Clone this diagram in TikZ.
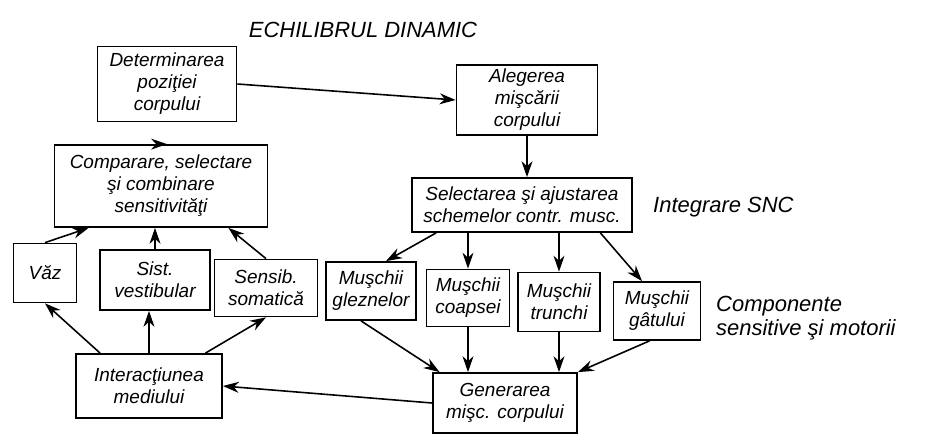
\documentclass[tikz,border=0pt]{standalone}
\usepackage{fontspec}
\setmainfont{Liberation Sans}
\usepackage{tikz}
\usetikzlibrary{arrows.meta,positioning,calc}

\begin{document}
\begin{tikzpicture}[
font=\itshape\fontsize{10.8}{12.5}\selectfont,
>={Stealth[length=3.2mm,width=2.2mm]},
box/.style={draw, line width=1pt, align=center, inner sep=2pt},
arr/.style={->, line width=0.9pt},
lbl/.style={font=\itshape\fontsize{12.5}{14}\selectfont, align=left}]
    \useasboundingbox (0,0) rectangle (18.5,8.82);

    % Title
    \node (title) at (7.26,8.22) [font=\itshape\fontsize{12.5}{14}\selectfont] {ECHILIBRUL DINAMIC};

    % Left branch: sensory side
    \node (det) at (3.34,7.14) [box, minimum width=2.78cm, minimum height=1.5cm] {Determinarea\\poziţiei\\corpului};
    \node (comp) at (3.22,5.10) [box, minimum width=4.26cm, minimum height=1.64cm] {Comparare, selectare\\şi combinare\\sensitivităţi};
    \node (vaz) at (0.90,3.36) [box, minimum width=1.26cm, minimum height=1.18cm] {Văz};
    \node (vest) at (3.10,3.22) [box, minimum width=2.2cm, minimum height=1.2cm] {Sist.\\vestibular};
    \node (som) at (5.32,3.06) [box, minimum width=2.06cm, minimum height=1.14cm] {Sensib.\\somatică};
    \node (inter) at (2.98,1.10) [box, minimum width=2.92cm, minimum height=1.28cm] {Interacţiunea\\mediului};

    % Right branch: motor side
    \node (aleg) at (10.54,6.82) [box, minimum width=2.82cm, minimum height=1.4cm] {Alegerea\\mişcării\\corpului};
    \node (sel) at (10.44,4.72) [box, minimum width=4.4cm, minimum height=1.08cm] {Selectarea şi ajustarea\\schemelor contr. musc.};
    \node (glez) at (7.42,3.00) [box, minimum width=1.8cm, minimum height=1.16cm] {Muşchii\\gleznelor};
    \node (coap) at (9.36,2.86) [box, minimum width=1.66cm, minimum height=1.14cm] {Muşchii\\coapsei};
    \node (trun) at (11.18,2.78) [box, minimum width=1.64cm, minimum height=1.18cm] {Muşchii\\trunchi};
    \node (gat) at (13.14,2.60) [box, minimum width=1.74cm, minimum height=1.16cm] {Muşchii\\gâtului};
    \node (gen) at (10.10,0.76) [box, minimum width=2.88cm, minimum height=1.2cm] {Generarea\\mişc. corpului};

    % Side labels
    \node (snc) at (12.94,4.68) [lbl, anchor=west] {Integrare SNC};
    \node (cmp) at (14.2,2.46) [lbl, anchor=west] {Componente\\sensitive şi motorii};

    % Arrows, left
    \draw[arr] (comp.north) -- (comp.north -| det.south);
    \draw[arr] (vaz.north) -- ([xshift=0.7cm]comp.south west);
    \draw[arr] (vest.north) -- (vest.north |- comp.south);
    \draw[arr] (som.north) -- ([xshift=-0.8cm]comp.south east);
    \draw[arr] ([xshift=0.5cm]inter.north west) -- (vaz.south);
    \draw[arr] (inter.north) -- (inter.north |- vest.south);
    \draw[arr] ([xshift=-0.35cm]inter.north east) -- (som.south);

    % Arrows, right
    \draw[arr] (det.east) -- (aleg.west);
    \draw[arr] (aleg.south) -- (aleg.south |- sel.north);
    \draw[arr] ([xshift=0.5cm]sel.south west) -- ([xshift=0.3cm]glez.north);
    \draw[arr] (sel.south -| coap.north) -- (coap.north);
    \draw[arr] (sel.south -| trun.north) -- (trun.north);
    \draw[arr] ([xshift=-0.65cm]sel.south east) -- ([xshift=-0.3cm]gat.north);
    \draw[arr] ([xshift=-0.2cm]glez.south) -- ([xshift=0.15cm]gen.north west);
    \draw[arr] (coap.south) -- (coap.south |- gen.north);
    \draw[arr] (trun.south) -- (trun.south |- gen.north);
    \draw[arr] ([xshift=-0.15cm]gat.south) -- (gen.north east);
    \draw[arr] (gen.west) -- (inter.east);

\end{tikzpicture}
\end{document}
